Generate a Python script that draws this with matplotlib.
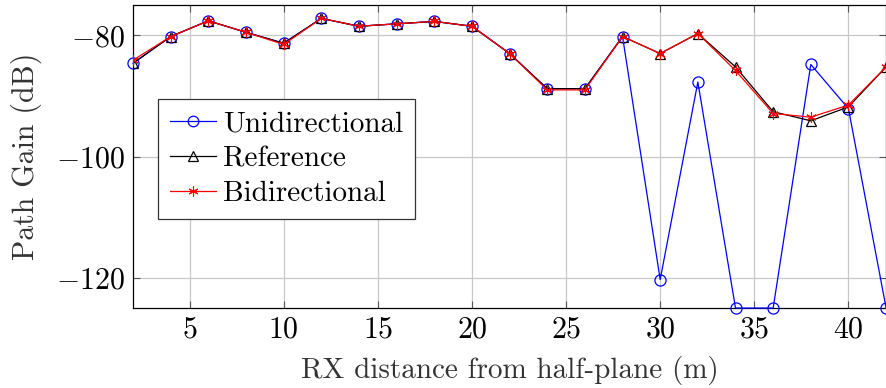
import matplotlib
matplotlib.use("Agg")
import matplotlib.pyplot as plt

plt.rcParams['font.family'] = ['cmr10', 'DejaVu Serif']
plt.rcParams['mathtext.fontset'] = 'cm'
plt.rcParams['axes.formatter.use_mathtext'] = True

distance = [2, 4, 6, 8, 10, 12, 14, 16, 18, 20, 22, 24, 26, 28, 30, 32, 34, 36, 38, 40, 42]
unidirectional = [-84.6, -80.2, -77.6, -79.5, -81.3, -77.2, -78.5, -78.1, -77.7, -78.5,
                  -83.0, -88.8, -88.8, -80.2, -120.3, -87.7, -125.0, -125.0, -84.8, -92.1, -125.0]
reference = [-84.6, -80.2, -77.6, -79.5, -81.3, -77.2, -78.5, -78.1, -77.7, -78.5,
             -83.0, -88.8, -88.8, -80.2, -83.0, -79.7, -85.2, -92.6, -94.1, -91.8, -85.2]
bidirectional = [-84.1, -80.2, -77.6, -79.5, -81.5, -77.2, -78.5, -78.1, -77.7, -78.5,
                 -83.0, -89.0, -89.0, -80.2, -83.0, -79.7, -85.8, -92.9, -93.5, -91.5, -85.2]

fig = plt.figure(figsize=(8.87, 3.88), dpi=100)
ax = fig.add_axes([0.150, 0.206, 0.849, 0.781])

ax.plot(distance, unidirectional, color='blue', lw=0.9, marker='o', ms=8,
        mfc='none', mec='blue', mew=0.9, label='Unidirectional', clip_on=False, zorder=3)
ax.plot(distance, reference, color='black', lw=0.9, marker='^', ms=7,
        mfc='none', mec='black', mew=0.9, label='Reference', zorder=4)
ax.plot(distance, bidirectional, color='red', lw=0.9, marker=(6, 2, 0), ms=7.5,
        mfc='red', mec='red', mew=0.8, label='Bidirectional', zorder=5)

ax.set_xlim(2, 42)
ax.set_ylim(-125, -75)
ax.set_xticks([5, 10, 15, 20, 25, 30, 35, 40])
ax.set_yticks([-120, -100, -80])
ax.grid(True, color='#c8c8c8', lw=0.9)
ax.set_axisbelow(True)
ax.tick_params(direction='in', top=True, right=True, length=5, width=0.8,
               color='#555555', labelsize=21.5, pad=6)
for s in ax.spines.values():
    s.set_linewidth(0.9)

ax.set_xlabel('RX distance from half-plane (m)', fontsize=21, color='#333333', labelpad=9)
ax.set_ylabel('Path Gain (dB)', fontsize=21.5, color='#333333', labelpad=10)

leg = ax.legend(loc='upper left', bbox_to_anchor=(0.033, 0.69), fontsize=21,
                frameon=True, fancybox=False, edgecolor='#333333', framealpha=1,
                handlelength=1.6, handletextpad=0.23, borderpad=0.4, labelspacing=0.3,
                markerscale=0.95, borderaxespad=0)
leg.get_frame().set_linewidth(0.9)

fig.savefig('out.png', dpi=100)
